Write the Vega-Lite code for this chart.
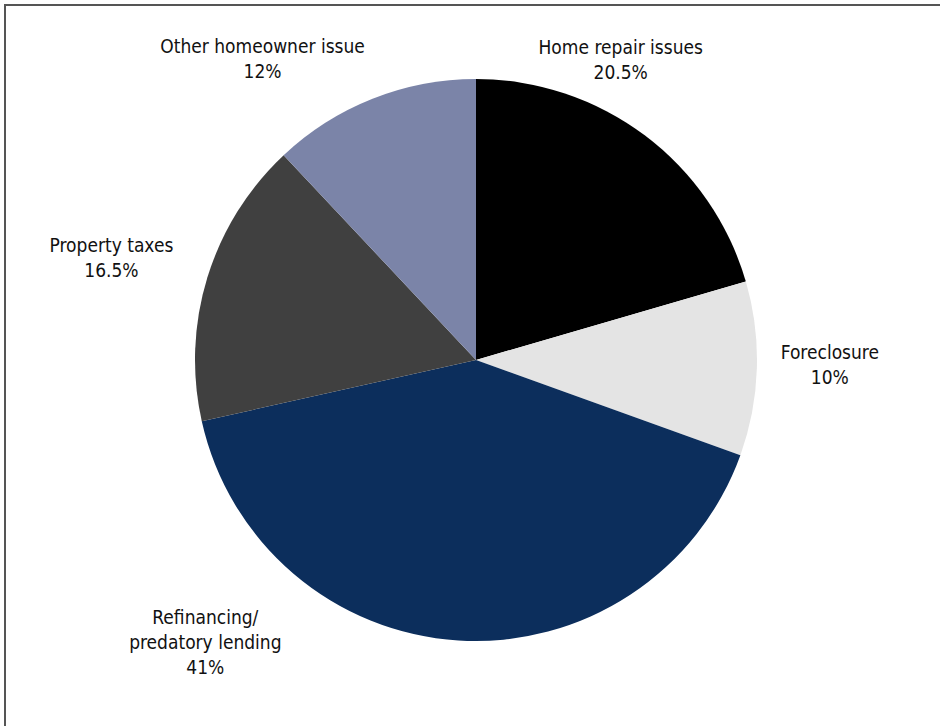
{
  "$schema": "https://vega.github.io/schema/vega-lite/v6.json",
  "width": 945,
  "height": 731,
  "autosize": "none",
  "padding": {"left": 5, "top": 5, "right": -10, "bottom": -10},
  "background": "white",
  "view": {"stroke": "#555555", "strokeWidth": 2},
  "data": {
    "values": [
      {"slice": 1, "category": "Home repair issues", "label": "Home repair issues", "value": 20.5},
      {"slice": 2, "category": "Foreclosure", "label": "Foreclosure", "value": 10},
      {"slice": 3, "category": "Refinancing/predatory lending", "label": "Refinancing/\npredatory lending", "value": 41},
      {"slice": 4, "category": "Property taxes", "label": "Property taxes", "value": 16.5},
      {"slice": 5, "category": "Other homeowner issue", "label": "Other homeowner issue", "value": 12}
    ]
  },
  "transform": [
    {"stack": "value", "groupby": [], "sort": [{"field": "slice", "order": "ascending"}], "as": ["v0", "v1"]},
    {"calculate": "(datum.v0 + datum.v1) / 2", "as": "mid"},
    {"calculate": "datum.label + '\\n' + datum.value + '%'", "as": "text"}
  ],
  "layer": [
    {
      "mark": {"type": "arc", "outerRadius": 281, "xOffset": -1.5, "yOffset": -10.5, "stroke": null},
      "encoding": {
        "theta": {"field": "v0", "type": "quantitative", "scale": {"domain": [0, 100]}},
        "theta2": {"field": "v1"},
        "color": {
          "field": "category",
          "type": "nominal",
          "legend": null,
          "scale": {
            "domain": ["Home repair issues", "Foreclosure", "Refinancing/predatory lending", "Property taxes", "Other homeowner issue"],
            "range": ["#000000", "#e4e4e4", "#0c2e5c", "#404040", "#7b84a8"]
          }
        }
      }
    },
    {
      "transform": [{"filter": "datum.slice == 1"}],
      "mark": {"type": "text", "radius": 281, "xOffset": -1.5, "yOffset": -10.5, "dx": -24, "dy": -87.5, "font": "DejaVu Sans Condensed, Liberation Sans", "fontSize": 19, "lineHeight": 25, "lineBreak": "\n", "color": "#111111", "align": "center", "baseline": "middle"},
      "encoding": {"theta": {"field": "mid", "type": "quantitative", "scale": {"domain": [0, 100]}}, "text": {"field": "text"}}
    },
    {
      "transform": [{"filter": "datum.slice == 2"}],
      "mark": {"type": "text", "radius": 281, "xOffset": -1.5, "yOffset": -10.5, "dx": 73, "dy": -15.5, "font": "DejaVu Sans Condensed, Liberation Sans", "fontSize": 19, "lineHeight": 25, "lineBreak": "\n", "color": "#111111", "align": "center", "baseline": "middle"},
      "encoding": {"theta": {"field": "mid", "type": "quantitative", "scale": {"domain": [0, 100]}}, "text": {"field": "text"}}
    },
    {
      "transform": [{"filter": "datum.slice == 3"}],
      "mark": {"type": "text", "radius": 281, "xOffset": -1.5, "yOffset": -10.5, "dx": -253, "dy": -22, "font": "DejaVu Sans Condensed, Liberation Sans", "fontSize": 19, "lineHeight": 25, "lineBreak": "\n", "color": "#111111", "align": "center", "baseline": "middle"},
      "encoding": {"theta": {"field": "mid", "type": "quantitative", "scale": {"domain": [0, 100]}}, "text": {"field": "text"}}
    },
    {
      "transform": [{"filter": "datum.slice == 4"}],
      "mark": {"type": "text", "radius": 281, "xOffset": -1.5, "yOffset": -10.5, "dx": -96, "dy": -31.5, "font": "DejaVu Sans Condensed, Liberation Sans", "fontSize": 19, "lineHeight": 25, "lineBreak": "\n", "color": "#111111", "align": "center", "baseline": "middle"},
      "encoding": {"theta": {"field": "mid", "type": "quantitative", "scale": {"domain": [0, 100]}}, "text": {"field": "text"}}
    },
    {
      "transform": [{"filter": "datum.slice == 5"}],
      "mark": {"type": "text", "radius": 281, "xOffset": -1.5, "yOffset": -10.5, "dx": -110, "dy": -51.5, "font": "DejaVu Sans Condensed, Liberation Sans", "fontSize": 19, "lineHeight": 25, "lineBreak": "\n", "color": "#111111", "align": "center", "baseline": "middle"},
      "encoding": {"theta": {"field": "mid", "type": "quantitative", "scale": {"domain": [0, 100]}}, "text": {"field": "text"}}
    }
  ]
}
